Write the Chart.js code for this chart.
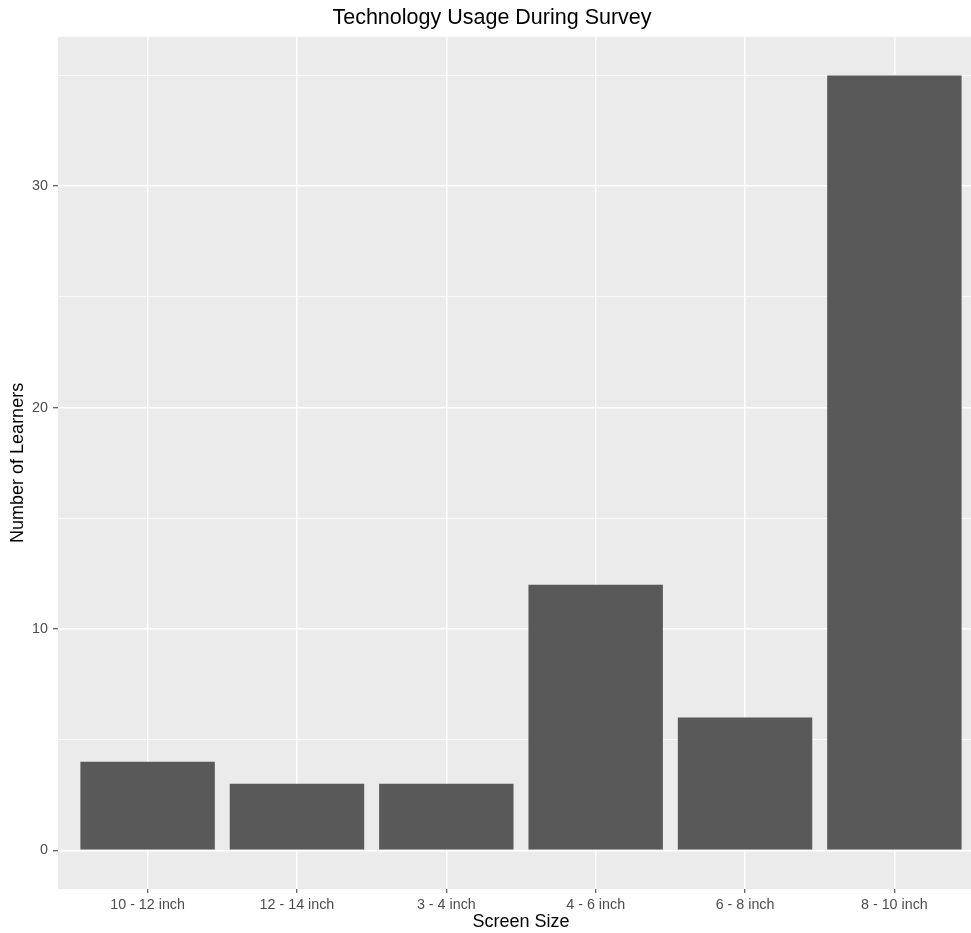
<!DOCTYPE html>
<html>
<head>
<meta charset="utf-8">
<script src="https://cdn.jsdelivr.net/npm/chart.js@4.4.1/dist/chart.umd.min.js"></script>
<style>
  html, body { margin: 0; padding: 0; overflow: hidden; background: #fff; }
  #wrap { width: 990px; height: 933px; }
</style>
</head>
<body>
<div id="wrap"><canvas id="myChart" width="990" height="933"></canvas></div>
<script>
const categories = ['10 - 12 inch', '12 - 14 inch', '3 - 4 inch', '4 - 6 inch', '6 - 8 inch', '8 - 10 inch'];
const learners = [4, 3, 3, 12, 6, 35];
const yMajor = [0, 10, 20, 30];
const yAllLines = [0, 5, 10, 15, 20, 25, 30, 35];

const FONT = '"Liberation Sans", Arial, Helvetica, sans-serif';

// grey ggplot panel behind the grid
const panelBg = {
  id: 'panelBg',
  beforeDraw(chart) {
    const a = chart.chartArea;
    const c = chart.ctx;
    c.save();
    c.fillStyle = '#EBEBEB';
    c.fillRect(a.left, a.top, a.right - a.left, a.bottom - a.top);
    c.restore();
  }
};

const points = learners.map((v, i) => ({ x: i + 1, y: v }));
const ctx = document.getElementById('myChart').getContext('2d');

const myChart = new Chart(ctx, {
  type: 'bar',
  data: {
    datasets: [{
      data: points,
      backgroundColor: '#595959',
      borderWidth: 0,
      barPercentage: 0.9,
      categoryPercentage: 1.0
    }]
  },
  plugins: [panelBg],
  options: {
    responsive: false,
    animation: false,
    layout: { padding: { left: 0, right: 6, top: 0, bottom: 0 } },
    plugins: {
      legend: { display: false },
      tooltip: { enabled: false },
      title: {
        display: true,
        text: 'Technology Usage During Survey',
        color: '#000',
        font: { family: FONT, size: 21.5, weight: 'normal' },
        padding: { top: 5, bottom: 6 }
      }
    },
    scales: {
      x: {
        type: 'linear',
        min: 0.4,
        max: 6.6,
        offset: false,
        afterBuildTicks: (scale) => {
          scale.ticks = categories.map((c, i) => ({ value: i + 1 }));
        },
        afterFit: (scale) => { scale.height = 44; },
        border: { display: false },
        grid: {
          offset: false,
          color: '#FFFFFF',
          lineWidth: 1.5,
          tickColor: '#333333',
          tickLength: 4,
          tickWidth: 1
        },
        ticks: {
          color: '#4D4D4D',
          font: { family: FONT, size: 14.3 },
          padding: 3,
          maxRotation: 0,
          autoSkip: false,
          callback: (v) => categories[Math.round(v) - 1]
        },
        title: {
          display: true,
          text: 'Screen Size',
          color: '#000',
          font: { family: FONT, size: 18 },
          padding: { top: 0, bottom: 0 }
        }
      },
      y: {
        type: 'linear',
        min: -1.75,
        max: 36.75,
        afterBuildTicks: (scale) => {
          scale.ticks = yAllLines.map(v => ({ value: v }));
        },
        afterFit: (scale) => { scale.width = 58; },
        border: { display: false },
        grid: {
          color: '#FFFFFF',
          lineWidth: (c) => (yMajor.includes(c.tick.value) ? 1.5 : 0.75),
          tickColor: (c) => (yMajor.includes(c.tick.value) ? '#333333' : 'rgba(0,0,0,0)'),
          tickLength: 5,
          tickWidth: 1
        },
        ticks: {
          color: '#4D4D4D',
          font: { family: FONT, size: 14.3 },
          padding: 5,
          autoSkip: false,
          callback: (v) => (yMajor.includes(v) ? String(v) : '')
        },
        title: {
          display: true,
          text: 'Number of Learners',
          color: '#000',
          font: { family: FONT, size: 18 },
          padding: { top: 7, bottom: 0 }
        }
      }
    }
  }
});
</script>
</body>
</html>
